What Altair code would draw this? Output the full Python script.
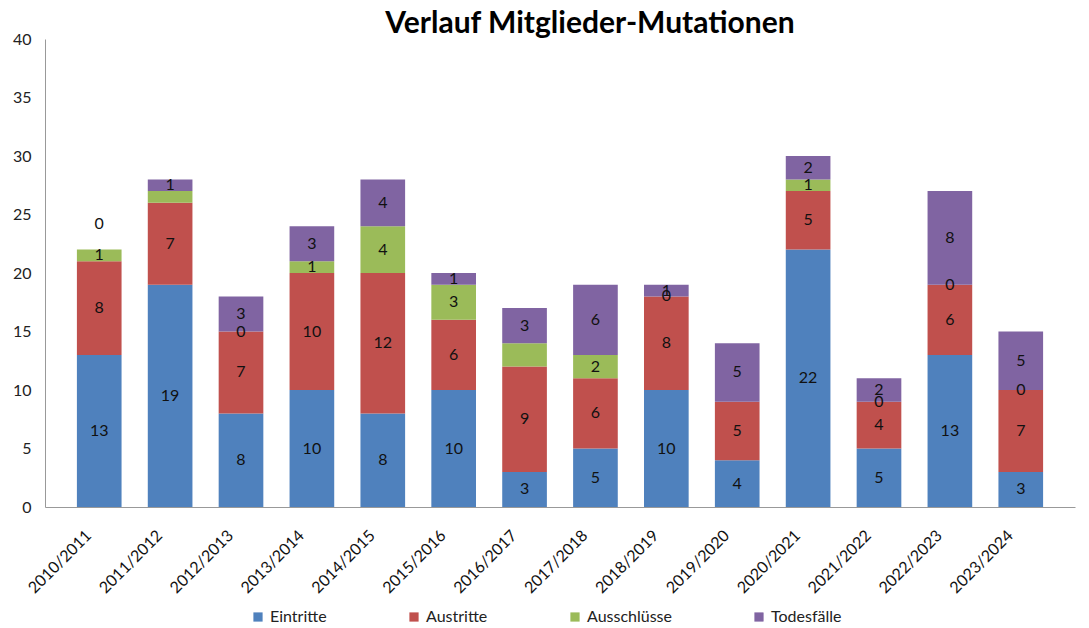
import altair as alt
import pandas as pd

years = ["2010/2011", "2011/2012", "2012/2013", "2013/2014", "2014/2015", "2015/2016", "2016/2017",
         "2017/2018", "2018/2019", "2019/2020", "2020/2021", "2021/2022", "2022/2023", "2023/2024"]
series = ["Eintritte", "Austritte", "Ausschlüsse", "Todesfälle"]
eintritte = [13, 19, 8, 10, 8, 10, 3, 5, 10, 4, 22, 5, 13, 3]
austritte = [8, 7, 7, 10, 12, 6, 9, 6, 8, 5, 5, 4, 6, 7]
ausschluesse = [1, 1, 0, 1, 4, 3, 2, 2, 0, 0, 1, 0, 0, 0]
todesfaelle = [0, 1, 3, 3, 4, 1, 3, 6, 1, 5, 2, 2, 8, 5]
# which value labels are printed in the original (1 = shown)
show_eintritte = [1] * 14
show_austritte = [1] * 14
show_ausschluesse = [1, 0, 1, 1, 1, 1, 0, 1, 1, 0, 1, 1, 1, 1]
show_todesfaelle = [1] * 14
colors = ["#4F81BD", "#C0504D", "#9BBB59", "#8064A2"]

rows = []
for s_i, (name, vals, shows) in enumerate(zip(
        series,
        [eintritte, austritte, ausschluesse, todesfaelle],
        [show_eintritte, show_austritte, show_ausschluesse, show_todesfaelle])):
    for y, v, sh in zip(years, vals, shows):
        rows.append({"Jahr": y, "Serie": name, "Wert": v, "ord": s_i,
                     "label": str(v) if sh else ""})
df = pd.DataFrame(rows)

FONT = "Lato"

base = alt.Chart(df).transform_stack(
    stack="Wert", as_=["y0", "y1"], groupby=["Jahr"], sort=[alt.SortField("ord")]
).transform_calculate(
    mid="datum.Wert == 0 && datum.ord == 3 ? datum.y1 + 2.2 : (datum.y0 + datum.y1) / 2"
)

xscale = alt.Scale(paddingInner=0.37, paddingOuter=0.45)
xenc = alt.X("Jahr:N", sort=years, title=None, scale=xscale,
             axis=alt.Axis(labelAngle=-45, labelFontSize=16, labelFont=FONT, labelColor="#111",
                           ticks=False, domainColor="#999", labelPadding=20, labelOffset=-16))

bars = base.mark_bar(stroke=None).encode(
    x=xenc,
    y=alt.Y("y0:Q", title=None, scale=alt.Scale(domain=[0, 40]),
            axis=alt.Axis(values=[0, 5, 10, 15, 20, 25, 30, 35, 40], grid=False, ticks=False,
                          domainColor="#999", labelFontSize=16, labelFont=FONT,
                          labelColor="#222", labelPadding=14)),
    y2="y1:Q",
    color=alt.Color("Serie:N", sort=series, title=None,
                    scale=alt.Scale(domain=series, range=colors),
                    legend=alt.Legend(orient="none", legendX=205, legendY=570,
                                      direction="horizontal", symbolType="square",
                                      symbolSize=85, labelFontSize=16, labelFont=FONT,
                                      labelColor="#222", columnPadding=79, symbolStrokeWidth=0)),
    order=alt.Order("ord:Q"),
)

labels = base.mark_text(fontSize=16, font=FONT, color="#111").encode(
    x=alt.X("Jahr:N", sort=years, scale=xscale),
    y="mid:Q",
    text="label:N",
)

chart = alt.layer(bars, labels).properties(
    width=1030, height=468,
    title=alt.TitleParams("Verlauf Mitglieder-Mutationen", fontSize=30, font=FONT,
                          fontWeight="bold", color="#000", dx=30, offset=-8),
    autosize=alt.AutoSizeParams(type="none"),
    padding={"left": 37, "top": 31, "right": 6, "bottom": 120},
).configure_view(stroke=None)

chart.save("out.html", embed_options={"renderer": "svg", "actions": False})
